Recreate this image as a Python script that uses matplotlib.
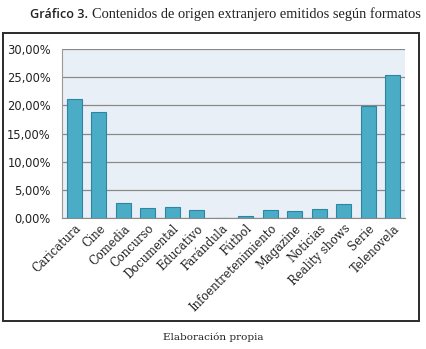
import matplotlib
matplotlib.use("Agg")
import matplotlib.pyplot as plt
from matplotlib.patches import Rectangle
from matplotlib.ticker import FuncFormatter, MultipleLocator

categories = ["Caricatura", "Cine", "Comedia", "Concurso", "Documental", "Educativo",
              "Farándula", "Fútbol", "Infoentretenimiento", "Magazine", "Noticias",
              "Reality shows", "Serie", "Telenovela"]
values = [21.1, 18.8, 2.6, 1.8, 1.9, 1.5, 0.0, 0.4, 1.5, 1.2, 1.6, 2.4, 19.9, 25.4]

W, H = 427, 349
fig = plt.figure(figsize=(W / 100, H / 100), dpi=100)
fig.patch.set_facecolor("white")

# outer frame
fig.add_artist(Rectangle((3 / W, 1 - 321 / H), 416 / W, 288 / H, transform=fig.transFigure,
                         fill=False, edgecolor="#2b2b2b", linewidth=1.4))

ax = fig.add_axes([62 / W, 1 - 218 / H, (405 - 62) / W, (218 - 49) / H])
ax.set_facecolor("#E9EFF6")
x = range(len(categories))
ax.bar(x, values, width=0.6, color="#4BACC6", edgecolor="#2C86A2", linewidth=0.8, zorder=3)
ax.set_xlim(-0.5, len(categories) - 0.5)
ax.set_ylim(0, 30)
ax.yaxis.set_major_locator(MultipleLocator(5))
ax.yaxis.set_major_formatter(FuncFormatter(lambda v, p: f"{v:.2f}".replace(".", ",") + "%"))
ax.grid(axis="y", color="#8a8a8a", linewidth=0.9, zorder=1)
for s in ["top", "right"]:
    ax.spines[s].set_visible(False)
ax.spines["left"].set_color("#9a9a9a")
ax.spines["bottom"].set_color("#8a8a8a")
ax.tick_params(axis="y", length=0, pad=8, labelsize=8.3, labelcolor="#222222")
ax.tick_params(axis="x", length=0, pad=3)
ax.set_xticks(list(x))
ax.set_xticklabels(categories, rotation=45, ha="right", rotation_mode="anchor",
                   fontsize=8.3, family="DejaVu Serif", color="#222222")
for lab in ax.get_yticklabels():
    lab.set_family("DejaVu Sans")

# title, fitted to the reference widths
fig.canvas.draw()
r = fig.canvas.get_renderer()

def fit(text, x0, x1, y, **kw):
    t = fig.text(x0 / W, 1 - y / H, text, fontsize=10, va="center", ha="left", **kw)
    w = t.get_window_extent(renderer=r).width
    t.set_fontsize(10 * (x1 - x0) / w)
    return t

fit("Gráfico 3.", 30, 88, 14, fontweight="semibold", family="Open Sans", color="#222222")
fit("Contenidos de origen extranjero emitidos según formatos", 92, 422, 14,
    family="Liberation Serif", color="#222222")

fig.text(213 / W, 1 - 337 / H, "Elaboración propia", fontsize=7.5, family="DejaVu Serif",
         color="#222222", ha="center", va="center")

fig.savefig("out.png", dpi=100)
